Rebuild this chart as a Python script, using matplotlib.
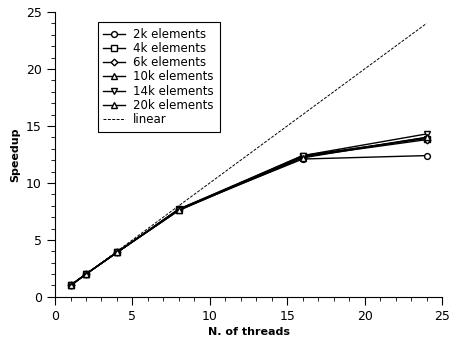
import matplotlib
matplotlib.use("Agg")
import matplotlib.pyplot as plt
from matplotlib.ticker import MultipleLocator

threads = [1, 2, 4, 8, 16, 24]
sp_2k = [1.0, 2.0, 3.9, 7.7, 12.1, 12.4]
sp_4k = [1.0, 2.0, 3.9, 7.7, 12.4, 13.9]
sp_6k = [1.0, 2.0, 3.9, 7.7, 12.3, 13.8]
sp_10k = [1.0, 2.0, 3.9, 7.6, 12.3, 14.0]
sp_14k = [1.0, 2.0, 3.9, 7.6, 12.4, 14.3]
sp_20k = [1.0, 2.0, 3.9, 7.6, 12.2, 14.0]
linear_x = [1, 24]
linear_y = [1, 24]

fig = plt.figure(figsize=(4.51, 3.44), dpi=100)
ax = fig.add_axes([0.122, 0.137, 0.858, 0.828])

ms = 4.2
ax.plot(threads, sp_2k, "k-", marker="o", mfc="white", ms=ms, lw=1, label="2k elements")
ax.plot(threads, sp_4k, "k-", marker="s", mfc="white", ms=ms, lw=1, label="4k elements")
ax.plot(threads, sp_6k, "k-", marker="D", mfc="white", ms=3.4, lw=1, label="6k elements")
ax.plot(threads, sp_10k, "k-", marker="^", mfc="white", ms=ms, lw=1, label="10k elements")
ax.plot(threads, sp_14k, "k-", marker="v", mfc="white", ms=ms, lw=1, label="14k elements")
ax.plot(threads, sp_20k, "k-", marker="^", mfc="white", ms=ms, lw=1, label="20k elements")
ax.plot(linear_x, linear_y, "k--", lw=0.7, dashes=(3, 1.5), label="linear")

ax.set_xlim(0, 25)
ax.set_ylim(0, 25)
ax.xaxis.set_major_locator(MultipleLocator(5))
ax.xaxis.set_minor_locator(MultipleLocator(1))
ax.yaxis.set_major_locator(MultipleLocator(5))
ax.yaxis.set_minor_locator(MultipleLocator(1))
ax.tick_params(which="major", length=6, labelsize=9)
ax.tick_params(which="minor", length=3)
ax.spines["top"].set_visible(False)
ax.spines["right"].set_visible(False)

ax.set_xlabel("N. of threads", fontsize=8, fontweight="bold", labelpad=3)
ax.set_ylabel("Speedup", fontsize=8, fontweight="bold", labelpad=4)

leg = ax.legend(loc="upper left", bbox_to_anchor=(0.11, 0.965), borderaxespad=0,
                fontsize=8.5, handlelength=1.8, labelspacing=0.1, borderpad=0.5,
                handletextpad=0.7, fancybox=False, shadow=False,
                edgecolor="black", framealpha=1)
leg.get_frame().set_linewidth(0.8)

fig.savefig("out.png", dpi=100)
